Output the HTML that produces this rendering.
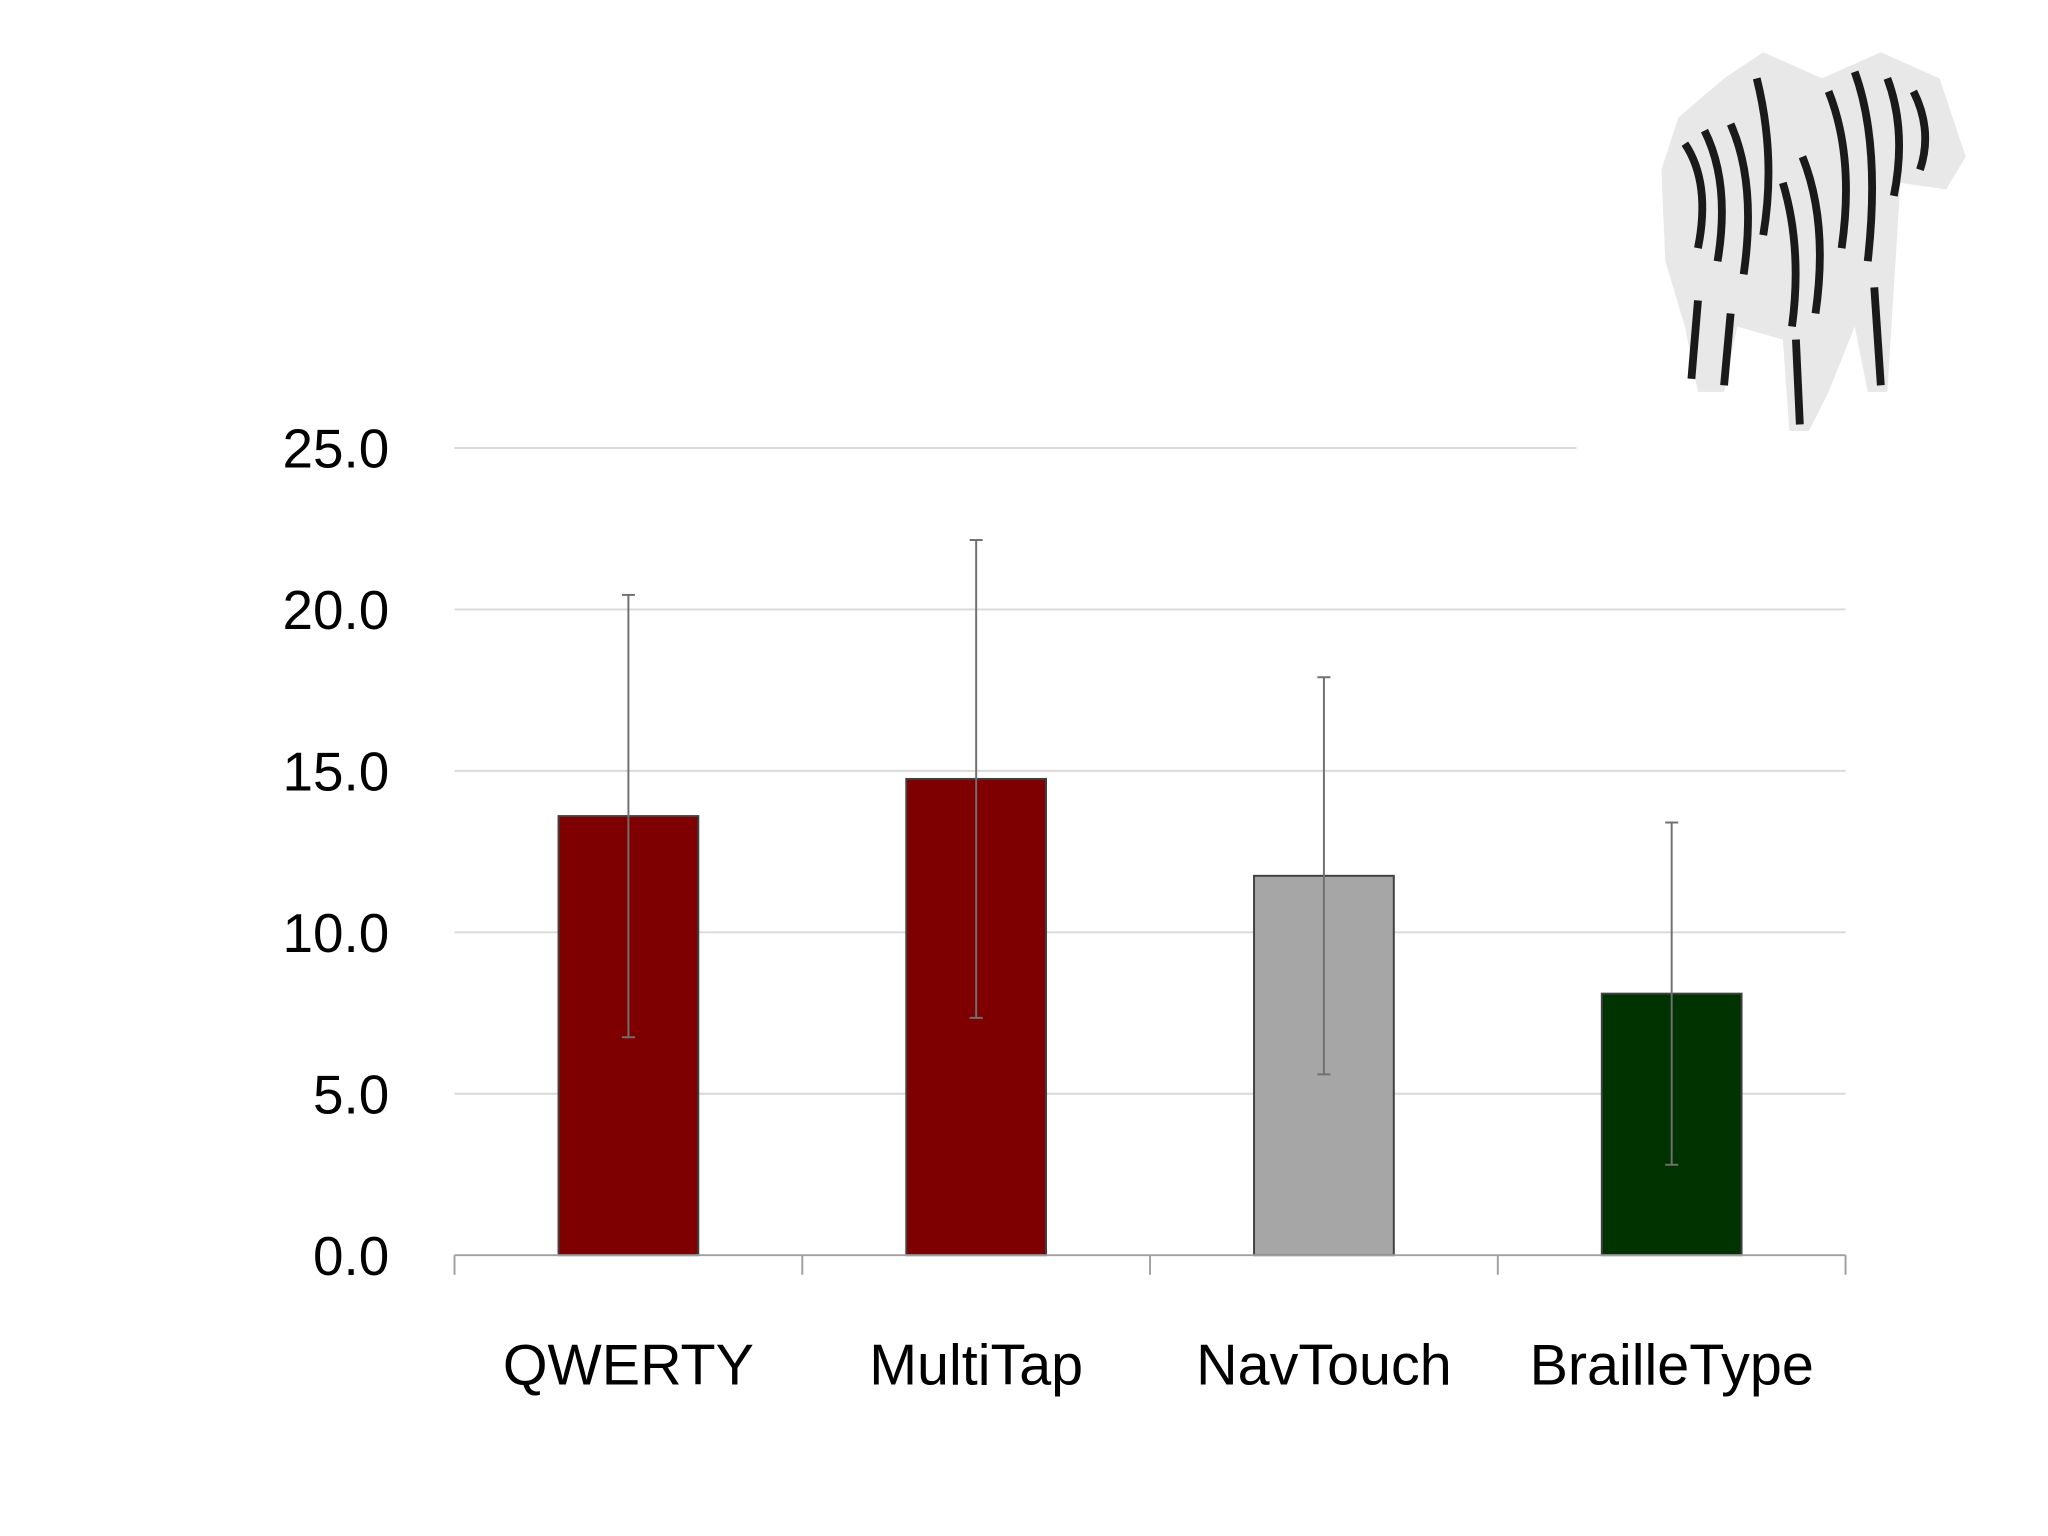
<!DOCTYPE html>
<html>
<head>
<meta charset="utf-8">
<style>
html,body{margin:0;padding:0;background:#fff;}
svg{display:block;}
text{font-family:"Liberation Sans",sans-serif;}
</style>
</head>
<body>
<svg id="chart" width="2048" height="1536" viewBox="0 0 1568 1176" xmlns="http://www.w3.org/2000/svg">
  <rect width="1568" height="1176" fill="#ffffff"/>
  <g id="zebra">
    <path d="M1285 90 L1320 60 L1350 40 L1395 60 L1440 40 L1485 60 L1505 120 L1490 145 L1455 140 L1450 220 L1445 300 L1430 300 L1420 250 L1400 300 L1385 330 L1370 330 L1365 260 L1330 250 L1320 300 L1300 300 L1290 250 L1275 200 L1272 130 Z" fill="#e8e8e8"/>
    <g stroke="#1a1a1a" stroke-width="6" fill="none">
      <path d="M1290 110 Q1310 140 1300 190"/>
      <path d="M1305 100 Q1325 140 1315 200"/>
      <path d="M1325 95 Q1345 140 1335 210"/>
      <path d="M1345 60 Q1360 120 1350 180"/>
      <path d="M1400 70 Q1420 120 1410 190"/>
      <path d="M1420 55 Q1440 110 1430 200"/>
      <path d="M1445 60 Q1460 100 1450 150"/>
      <path d="M1465 70 Q1480 100 1470 130"/>
      <path d="M1380 120 Q1400 170 1390 240"/>
      <path d="M1365 140 Q1380 190 1372 250"/>
      <path d="M1300 230 L1295 290"/>
      <path d="M1325 240 L1320 295"/>
      <path d="M1375 260 L1378 325"/>
      <path d="M1435 220 L1440 295"/>
    </g>
  </g>
  <g id="grid"></g>
  <g id="bars"></g>
  <g id="axis"></g>
</svg>
<script>
const categories = ["QWERTY","MultiTap","NavTouch","BrailleType"];
const values = [13.6, 14.75, 11.75, 8.1];
const errors = [6.85, 7.4, 6.15, 5.3];
const colors = ["#7f0000","#7f0000","#a6a6a6","#003300"];
const yTicks = [0,5,10,15,20,25];
const yTickLabels = ["0.0","5.0","10.0","15.0","20.0","25.0"];

const NS="http://www.w3.org/2000/svg";
const x0=348,x1=1413,yBase=961,yTop=343,yMax=25;
const y=v=>yBase-(v/yMax)*(yBase-yTop);
const band=(x1-x0)/categories.length;
const xc=i=>x0+band*(i+0.5);
function mk(tag,attrs,parent){const e=document.createElementNS(NS,tag);for(const k in attrs)e.setAttribute(k,attrs[k]);parent.appendChild(e);return e;}
const grid=document.getElementById('grid'),bars=document.getElementById('bars'),axis=document.getElementById('axis');

yTicks.forEach((t,i)=>{
  if(t>0){
    const l=mk('line',{x1:x0,x2:(t===25?1207:x1),y1:y(t),y2:y(t),stroke:'#d9d9d9','stroke-width':1.5},grid);
    
    
  }
  const tx=mk('text',{x:298,y:y(t)+15,'text-anchor':'end','font-size':42,fill:'#000'},axis);
  tx.textContent=yTickLabels[i];
  
  
});

const bw=107;
categories.forEach((c,i)=>{
  const r=mk('rect',{x:xc(i)-bw/2,y:y(values[i]),width:bw,height:yBase-y(values[i]),fill:colors[i],stroke:'#404040','stroke-width':1.5},bars);
  
  
  const g=mk('g',{stroke:'#707070','stroke-width':1.5},bars);
  
  
  const hi=y(values[i]+errors[i]),lo=y(values[i]-errors[i]);
  mk('line',{x1:xc(i),x2:xc(i),y1:hi,y2:lo},g);
  mk('line',{x1:xc(i)-5,x2:xc(i)+5,y1:hi,y2:hi},g);
  mk('line',{x1:xc(i)-5,x2:xc(i)+5,y1:lo,y2:lo},g);
  const tx=mk('text',{x:xc(i),y:1060,'text-anchor':'middle','font-size':44,fill:'#000'},axis);
  tx.textContent=c;
  
  
});

const ax=mk('line',{x1:x0,x2:x1,y1:yBase,y2:yBase,stroke:'#a0a0a0','stroke-width':1.5},axis);


for(let i=0;i<=categories.length;i++){
  const t=mk('line',{x1:x0+band*i,x2:x0+band*i,y1:yBase,y2:yBase+15,stroke:'#a0a0a0','stroke-width':1.5},axis);
  
  
}
</script>
</body>
</html>
